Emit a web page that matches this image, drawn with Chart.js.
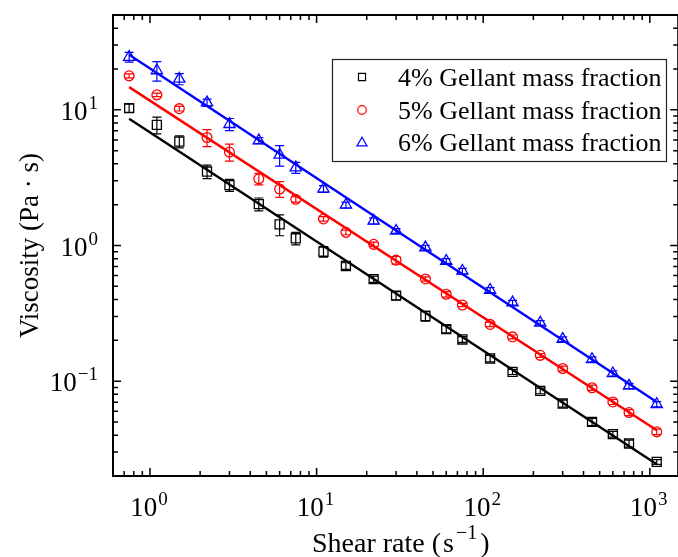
<!DOCTYPE html>
<html>
<head>
<meta charset="utf-8">
<script src="https://cdn.jsdelivr.net/npm/chart.js@4"></script>
<style>
  html, body { margin: 0; padding: 0; background: #fff; overflow: hidden; }
  #wrap { width: 686px; height: 557px; }
</style>
</head>
<body>
<div id="wrap"><canvas id="viscChart" width="686" height="557"></canvas></div>
<script>
// shear rate (1/s) shared by all three samples
const shearRate = [0.75, 1.1, 1.5, 2.2, 3, 4.5, 6, 7.5, 11, 15, 22, 30, 45, 60, 75, 110, 150, 220, 300, 450, 600, 750, 1100];

// viscosity (Pa s) and error
const visc4 = [10.3, 7.74, 5.84, 3.51, 2.79, 2.02, 1.43, 1.13, 0.90, 0.706, 0.565, 0.427, 0.302, 0.242, 0.203, 0.147, 0.117, 0.0848, 0.0684, 0.0501, 0.0407, 0.0347, 0.0254];
const err4 = [0.7, 1.1, 0.6, 0.4, 0.28, 0.22, 0.25, 0.12, 0.08, 0.04, 0.03, 0.03, 0.025, 0.015, 0.01, 0.008, 0.005, 0.004, 0.004, 0.003, 0.002, 0.002, 0.001];
const visc5 = [17.8, 12.9, 10.2, 6.25, 4.88, 3.10, 2.61, 2.19, 1.57, 1.25, 1.02, 0.78, 0.567, 0.437, 0.364, 0.262, 0.212, 0.155, 0.124, 0.0894, 0.0703, 0.0587, 0.0423];
const err5 = [0.6, 0.4, 0.4, 0.9, 0.7, 0.3, 0.35, 0.1, 0.06, 0.05, 0.04, 0.05, 0.02, 0.02, 0.01, 0.01, 0.007, 0.005, 0.005, 0.004, 0.003, 0.003, 0.002];
const visc6 = [24.5, 19.5, 16.9, 11.3, 7.83, 5.93, 4.65, 3.75, 2.61, 1.99, 1.52, 1.28, 0.964, 0.769, 0.649, 0.470, 0.379, 0.269, 0.204, 0.145, 0.114, 0.0923, 0.0676];
const err6 = [2.0, 3.2, 1.6, 0.7, 0.8, 0.3, 0.8, 0.35, 0.15, 0.1, 0.08, 0.05, 0.04, 0.03, 0.03, 0.02, 0.015, 0.01, 0.008, 0.006, 0.005, 0.004, 0.003];

// power-law fit lines, end points
const fitRate = [0.75, 1100];
const fit4 = [8.6, 0.0244];
const fit5 = [14.7, 0.0434];
const fit6 = [25.5, 0.0703];

const seriesLabels = ['4% Gellant mass fraction', '5% Gellant mass fraction', '6% Gellant mass fraction'];
const xTicks = [1, 10, 100, 1000];
const yTicks = [0.1, 1, 10];

const SERIF = '"Liberation Serif", "Times New Roman", serif';
const colors = ['#000000', '#ff0000', '#0000ff'];
const styles = ['rect', 'circle', 'triangle'];
const radii = [6.4, 4.9, 6.5];

const pts = (xs, ys) => xs.map((v, i) => ({ x: v, y: ys[i] }));

const fitSet = (ys, c) => ({
  type: 'line',
  data: pts(fitRate, ys),
  borderColor: c,
  borderWidth: 2.4,
  pointRadius: 0,
  showLine: true,
  fill: false
});

const markSet = (ys, errs, k) => ({
  type: 'scatter',
  label: seriesLabels[k],
  data: pts(shearRate, ys),
  errs: errs,
  borderColor: colors[k],
  backgroundColor: 'rgba(0,0,0,0)',
  pointStyle: styles[k],
  pointRadius: radii[k],
  pointHoverRadius: radii[k],
  pointBorderWidth: 1.3,
  showLine: false
});

function drawPower(ctx, exp, x, y, align) {
  const base = '10';
  const sup = String(exp).replace('-', '\u2212');
  ctx.font = '27px ' + SERIF;
  const wb = ctx.measureText(base).width;
  ctx.font = '19px ' + SERIF;
  const ws = ctx.measureText(sup).width;
  const x0 = align === 'right' ? x - wb - ws - 1 : x - (wb + ws + 1) / 2;
  ctx.textAlign = 'left';
  ctx.textBaseline = 'alphabetic';
  ctx.font = '27px ' + SERIF;
  ctx.fillText(base, x0, y);
  ctx.font = '19px ' + SERIF;
  ctx.fillText(sup, x0 + wb + 1, y - 11);
}

const errorBars = {
  id: 'errorBars',
  beforeDatasetsDraw(chart) {
    const { ctx, scales: { x, y } } = chart;
    ctx.save();
    chart.data.datasets.forEach((ds) => {
      if (!ds.errs) return;
      ctx.strokeStyle = ds.borderColor;
      ctx.lineWidth = 1.2;
      ds.data.forEach((p, i) => {
        const e = ds.errs[i];
        const px = x.getPixelForValue(p.x);
        const y1 = y.getPixelForValue(p.y + e);
        const y2 = y.getPixelForValue(Math.max(p.y - e, 1e-6));
        ctx.beginPath();
        ctx.moveTo(px, y1); ctx.lineTo(px, y2);
        ctx.moveTo(px - 4.5, y1); ctx.lineTo(px + 4.5, y1);
        ctx.moveTo(px - 4.5, y2); ctx.lineTo(px + 4.5, y2);
        ctx.stroke();
      });
    });
    ctx.restore();
  }
};

const frame = {
  id: 'frame',
  afterDraw(chart) {
    const { ctx, chartArea: a, scales: { x, y } } = chart;
    ctx.save();
    ctx.strokeStyle = '#000';
    ctx.fillStyle = '#000';
    ctx.lineWidth = 1.5;
    ctx.beginPath();
    for (let e = -2; e <= 4; e++) {
      for (let m = 1; m < 10; m++) {
        const v = m * Math.pow(10, e);
        const len = m === 1 ? 8 : 5;
        if (v >= x.min && v <= x.max) {
          const px = x.getPixelForValue(v);
          ctx.moveTo(px, a.bottom); ctx.lineTo(px, a.bottom - len);
          ctx.moveTo(px, a.top); ctx.lineTo(px, a.top + len);
        }
        if (v >= y.min && v <= y.max) {
          const py = y.getPixelForValue(v);
          ctx.moveTo(a.left, py); ctx.lineTo(a.left + len, py);
          ctx.moveTo(a.right, py); ctx.lineTo(a.right - len, py);
        }
      }
    }
    ctx.stroke();
    ctx.lineWidth = 2;
    ctx.strokeRect(a.left, a.top, a.right - a.left, a.bottom - a.top);

    // tick labels
    xTicks.forEach((v) => drawPower(ctx, Math.round(Math.log10(v)), x.getPixelForValue(v) - 1, 516, 'center'));
    yTicks.forEach((v) => drawPower(ctx, Math.round(Math.log10(v)), 98, y.getPixelForValue(v) + 10, 'right'));

    // x title
    ctx.textAlign = 'left';
    ctx.textBaseline = 'alphabetic';
    ctx.font = '28px ' + SERIF;
    const t1 = 'Shear rate (';
    let tx = 312;
    ctx.fillText(t1, tx, 552);
    tx += ctx.measureText(t1).width + 2;
    ctx.fillText('s', tx, 552);
    tx += ctx.measureText('s').width + 2;
    ctx.font = '20px ' + SERIF;
    ctx.fillText('\u22121', tx, 539);
    tx += ctx.measureText('\u22121').width + 3;
    ctx.font = '28px ' + SERIF;
    ctx.fillText(')', tx, 552);

    // y title
    ctx.save();
    ctx.translate(38, (a.top + a.bottom) / 2);
    ctx.rotate(-Math.PI / 2);
    ctx.textAlign = 'center';
    ctx.font = '27px ' + SERIF;
    ctx.fillText('Viscosity (Pa \u00b7 s)', 0, 0);
    ctx.restore();

    // legend
    ctx.lineWidth = 1.2;
    ctx.strokeStyle = '#222';
    ctx.strokeRect(332.5, 59.5, 334, 102);
    const rows = [77, 110, 142];
    const legendRadii = [5, 4.3, 5.8];
    seriesLabels.forEach((lab, k) => {
      ctx.strokeStyle = colors[k];
      ctx.fillStyle = 'rgba(0,0,0,0)';
      Chart.helpers.drawPoint(ctx, { pointStyle: styles[k], radius: legendRadii[k], borderWidth: 1.2, rotation: 0 }, 362, rows[k] + (k === 2 ? 1 : 0));
      ctx.fillStyle = '#000';
      ctx.font = '26px ' + SERIF;
      ctx.textAlign = 'left';
      ctx.textBaseline = 'alphabetic';
      ctx.fillText(lab, 398, rows[k] + 9);
    });
    ctx.restore();
  }
};

new Chart(document.getElementById('viscChart'), {
  type: 'scatter',
  data: {
    datasets: [
      fitSet(fit4, colors[0]),
      fitSet(fit5, colors[1]),
      fitSet(fit6, colors[2]),
      markSet(visc4, err4, 0),
      markSet(visc5, err5, 1),
      markSet(visc6, err6, 2)
    ]
  },
  options: {
    responsive: false,
    animation: false,
    devicePixelRatio: 1,
    layout: { padding: { top: 15, right: 3, bottom: 0, left: 0 } },
    plugins: { legend: { display: false }, tooltip: { enabled: false } },
    scales: {
      x: {
        type: 'logarithmic',
        min: 0.6,
        max: 1480,
        grid: { display: false },
        border: { display: false },
        ticks: { display: false },
        afterFit: (s) => { s.height = 81; }
      },
      y: {
        type: 'logarithmic',
        min: 0.02,
        max: 50,
        grid: { display: false },
        border: { display: false },
        ticks: { display: false },
        afterFit: (s) => { s.width = 113; }
      }
    }
  },
  plugins: [errorBars, frame]
});
</script>
</body>
</html>
